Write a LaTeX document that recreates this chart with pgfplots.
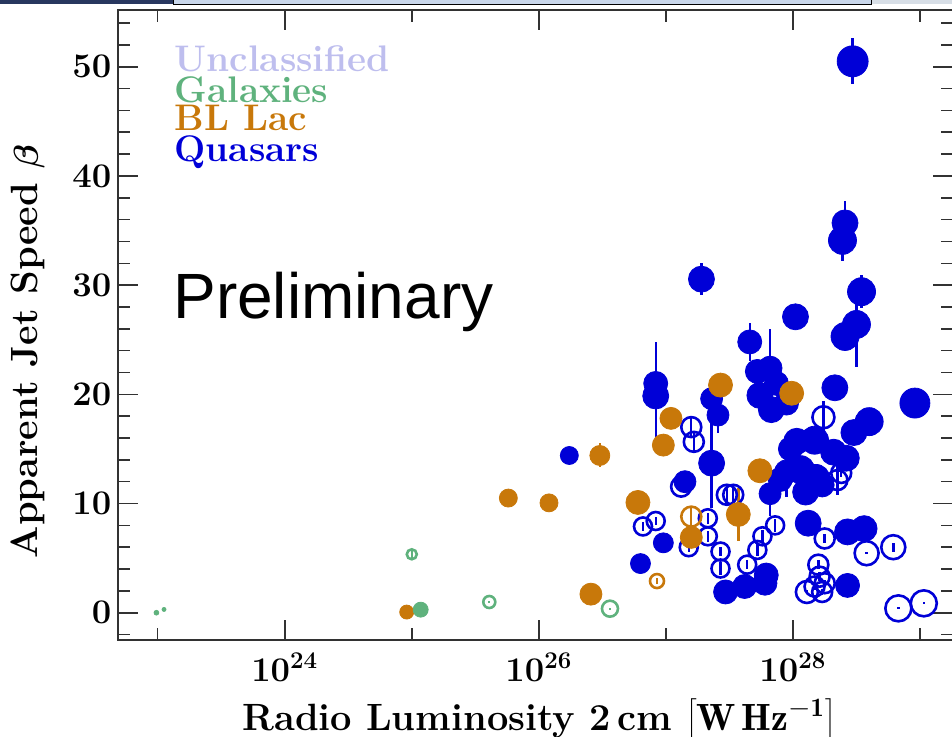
\documentclass[border=0pt]{standalone}
\usepackage{fontspec}
\usepackage{pgfplots}
\pgfplotsset{compat=1.18}
\newfontfamily\arialfont{Liberation Sans}
\definecolor{qblue}{RGB}{0,0,215}
\definecolor{bllac}{RGB}{200,120,10}
\definecolor{galgreen}{RGB}{95,178,125}
\definecolor{uncl}{RGB}{190,190,238}
\definecolor{axgray}{RGB}{50,50,50}
\definecolor{topnavy}{RGB}{40,55,95}
\definecolor{topbox}{RGB}{200,214,234}
\definecolor{topright}{RGB}{215,222,230}
\newcommand\myfs{\fontsize{17}{20}\selectfont}
\newcommand\labfs{\fontsize{19}{22}\selectfont}
\newcommand\legfs{\fontsize{18.5}{21}\selectfont}
\newcommand\boldbeta{{\usefont{OML}{cmm}{b}{it}\symbol{12}}}
\pgfplotsset{
 filledpt/.style={only marks, scatter, mark=*,
   scatter/use mapped color={draw=#1, fill=#1},
   visualization depends on={\thisrow{r} \as \perpointmarksize},
   scatter/@pre marker code/.append style={/tikz/mark size=\perpointmarksize}},
 openpt/.style={only marks, scatter, mark=o, line width=1.3pt, mark options={line width=1.3pt},
   scatter/use mapped color={draw=#1, fill=#1},
   visualization depends on={\thisrow{r} \as \perpointmarksize},
   scatter/@pre marker code/.append style={/tikz/mark size=\perpointmarksize, /tikz/line width=1.3pt}},
 ebar/.style={draw=none, mark=none, forget plot,
   error bars/.cd, y dir=both, y explicit, error mark=none,
   error bar style={line width=1.2pt, color=#1}},
}
\begin{document}
\begin{tikzpicture}
\path[use as bounding box] (-59.15pt,-48pt) rectangle (416.85pt,320pt);
\begin{axis}[
  scale only axis, width=417.35pt, height=315pt,
  xmin=22.69, xmax=29.26, ymin=-2.5, ymax=55.2,
  xtick={24,26,28}, xticklabels={$10^{24}$,$10^{26}$,$10^{28}$},
  minor xtick={23,25,27,29},
  ytick={0,10,20,30,40,50},
  minor ytick={-2,2,4,6,8,12,14,16,18,22,24,26,28,32,34,36,38,42,44,46,48,52,54},
  tick align=inside, major tick length=10pt, minor tick length=6pt,
  every tick/.style={line width=0.8pt, color=axgray},
  axis line style={line width=0.8pt, color=axgray},
  tick label style={font=\myfs\boldmath},
  xticklabel style={yshift=-3pt},
  xlabel={\bfseries Radio Luminosity 2\,cm $\left[\mathbf{W\,Hz}^{\mathbf{-1}}\right]$},
  ylabel={\bfseries Apparent Jet Speed \boldbeta},
  xlabel style={at={(axis description cs:0.504,-0.1444)}, anchor=base, font=\labfs},
  ylabel style={font=\labfs, at={(ticklabel cs:0.457)}, inner sep=10pt},
]
\pgfplotstableread{
x y e r
27.20 17.0 0.9 5
27.22 15.65 0.9 5
27.12 11.55 0.4 5
27.48 10.8 0.9 5
27.53 10.8 0.9 5
26.82 7.9 0.4 4.5
26.92 8.4 0.4 4.5
27.18 6.0 0.4 4.5
27.33 8.65 0.5 4.5
27.33 7.0 0.5 4.5
27.43 5.6 0.4 4.5
27.43 4.05 0.6 4.5
27.64 4.4 0.4 4.5
27.76 7.0 0.6 4.5
27.86 8.0 0.6 4.5
27.72 5.75 0.6 4.5
28.24 17.9 1.5 5.5
28.35 12.15 1.4 5
28.38 12.8 0.4 5
28.25 6.8 0.4 5
28.58 5.45 0.1 6
28.79 6.0 0.4 6
28.20 4.4 0.4 5
28.21 3.3 0.4 5
28.11 1.9 0.2 5.5
28.17 2.4 0.3 5
28.25 2.7 0.3 5
28.23 1.9 0.3 5
28.83 0.4 0.1 6.5
29.03 0.86 0.1 6.5
}\qopen
\pgfplotstableread{
x y e r
27.20 8.8 0.9 5
26.93 2.9 0.3 3.5
}\bopen
\pgfplotstableread{
x y e r
25.00 5.35 0.3 2.5
25.61 0.98 0.1 3
26.56 0.37 0.1 4
}\gopen
\pgfplotstableread{
x y e r
28.47 50.5 2.1 7.75
28.41 35.7 2.0 6.5
28.39 34.1 1.9 7
28.54 29.4 1.5 7
27.28 30.55 1.45 6.5
28.02 27.1 0.5 6.5
28.50 26.4 3.9 7
28.41 25.3 0.5 7
27.66 24.8 1.75 6
27.82 22.4 3.6 6
27.72 22.1 0.5 6
26.92 21.0 3.8 6
26.92 19.85 4.9 6.5
27.36 19.6 0.5 5.5
27.41 18.1 1.65 5.5
27.74 19.9 0.5 6.5
27.87 21.0 0.5 6
27.83 18.6 0.5 6.5
27.95 19.2 0.5 6
28.33 20.6 0.5 6.5
28.96 19.2 0.5 7.5
28.60 17.5 0.5 7
28.48 16.5 0.5 6.5
27.36 13.7 4.1 6.5
27.15 12.0 0.5 5.5
26.24 14.4 0.3 4.5
28.03 15.7 0.5 6.5
28.17 15.8 0.5 7
28.32 14.7 0.5 6.5
28.42 14.15 0.5 6.5
28.06 13.1 0.5 7
27.95 12.9 2.3 6
28.18 12.3 0.5 7
28.10 11.05 0.5 6.5
28.23 11.7 0.5 6
27.90 12.2 0.5 6
27.82 10.9 2.0 5.5
27.98 15.0 1.5 6
28.12 8.2 0.5 6.5
28.43 7.4 0.5 6.5
28.56 7.7 0.5 6.5
26.98 6.4 0.5 5
26.80 4.5 0.3 5
27.47 1.9 0.3 6
27.62 2.4 0.3 6
27.78 2.7 0.3 6
27.79 3.45 0.3 6
28.43 2.5 0.3 6
}\qfill
\pgfplotstableread{
x y e r
27.43 20.85 0.5 6
27.99 20.1 1.0 6
27.04 17.8 0.3 5.5
26.98 15.35 0.3 5.5
27.74 13.0 0.5 6
27.57 9.0 2.4 6
26.78 10.1 0.3 6
27.20 6.9 0.3 5.5
26.48 14.4 1.1 5
25.76 10.5 0.2 4.5
26.08 10.06 0.2 4.5
26.41 1.7 0.2 5.5
24.96 0.06 0.1 3.5
}\bfill
\pgfplotstableread{
x y e r
25.07 0.28 0.1 3.75
22.99 0.0 0.0 1.2
23.05 0.3 0.0 1.0
}\gfill
\addplot[openpt=qblue] table[x=x,y=y] {\qopen};
\addplot[ebar=qblue] table[x=x,y=y,y error=e] {\qopen};
\addplot[openpt=bllac] table[x=x,y=y] {\bopen};
\addplot[ebar=bllac] table[x=x,y=y,y error=e] {\bopen};
\addplot[openpt=galgreen] table[x=x,y=y] {\gopen};
\addplot[ebar=galgreen] table[x=x,y=y,y error=e] {\gopen};
\addplot[filledpt=qblue] table[x=x,y=y] {\qfill};
\addplot[ebar=qblue] table[x=x,y=y,y error=e] {\qfill};
\addplot[filledpt=bllac] table[x=x,y=y] {\bfill};
\addplot[ebar=bllac] table[x=x,y=y,y error=e] {\bfill};
\addplot[filledpt=galgreen] table[x=x,y=y] {\gfill};
\addplot[ebar=galgreen] table[x=x,y=y,y error=e] {\gfill};
\node[anchor=base west, inner sep=0pt, text=uncl, font=\legfs\bfseries] at (axis cs:23.13,49.54) {Unclassified};
\node[anchor=base west, inner sep=0pt, text=galgreen, font=\legfs\bfseries] at (axis cs:23.13,46.70) {Galaxies};
\node[anchor=base west, inner sep=0pt, text=bllac, font=\legfs\bfseries] at (axis cs:23.13,44.14) {BL Lac};
\node[anchor=base west, inner sep=0pt, text=qblue, font=\legfs\bfseries] at (axis cs:23.13,41.30) {Quasars};
\node[anchor=base west, inner sep=0pt, font=\arialfont\fontsize{32}{38}\selectfont] at (axis cs:23.12,26.99) {Preliminary};
\end{axis}
\fill[topnavy] (-59.15pt,318pt) rectangle (27.35pt,320pt);
\filldraw[fill=topbox, draw=black, line width=0.5pt] (27.35pt,317.8pt) rectangle (376.35pt,321pt);
\fill[topright] (376.6pt,318pt) rectangle (416.85pt,320pt);
\end{tikzpicture}
\end{document}
